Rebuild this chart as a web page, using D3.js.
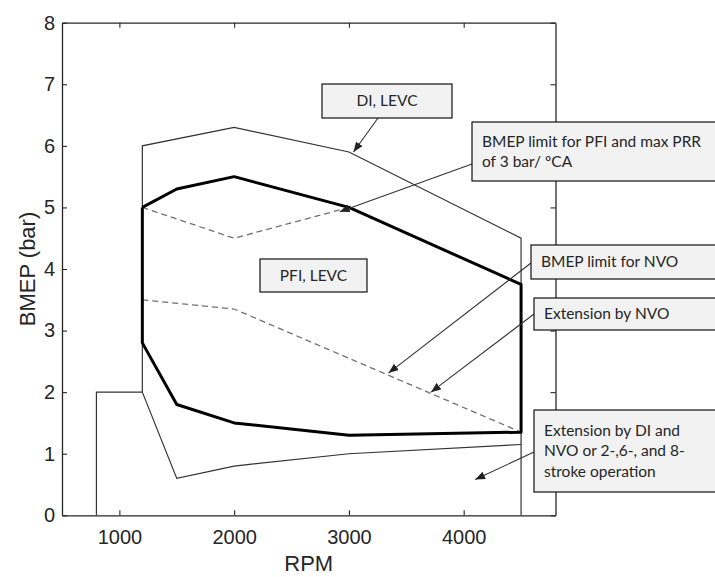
<!DOCTYPE html>
<html>
<head>
<meta charset="utf-8">
<script src="https://cdn.jsdelivr.net/npm/d3@7"></script>
<style>
  body { margin: 0; background: #fff; }
</style>
</head>
<body>
<div id="chart"></div>
<script>
// outer envelope (DI, LEVC and extensions), thin line
const outerRpm  = [800, 800, 1200, 1200, 2000, 3000, 4500, 4500];
const outerBmep = [0, 2, 2, 6, 6.3, 5.9, 4.5, 0];
// lower edge of the extension by DI / NVO
const lowerRpm  = [1200, 1500, 2000, 3000, 4500];
const lowerBmep = [2, 0.6, 0.8, 1.0, 1.15];
// PFI, LEVC region, thick line
const pfiRpm  = [1200, 1500, 2000, 3000, 4500, 4500, 3000, 2000, 1500, 1200, 1200];
const pfiBmep = [5.0, 5.3, 5.5, 5.0, 3.75, 1.35, 1.3, 1.5, 1.8, 2.8, 5.0];
// dashed limits
const prrRpm  = [1200, 2000, 3000];
const prrBmep = [5.0, 4.5, 5.0];
const nvoRpm  = [1200, 2000, 4500];
const nvoBmep = [3.5, 3.35, 1.35];
// ticks
const xTicks = [1000, 2000, 3000, 4000];
const yTicks = [0, 1, 2, 3, 4, 5, 6, 7, 8];

// callouts: box in pixels, arrow tip in data units
const notes = [
  { lines: ["DI, LEVC"], box: [322, 84, 130, 34], center: true, from: [378, 118], tip: [3040, 5.9] },
  { lines: ["BMEP limit for PFI and max PRR", "of 3 bar/ \u00baCA"], box: [472, 122, 260, 59], from: [472, 164], tip: [2920, 4.93] },
  { lines: ["PFI, LEVC"], box: [260, 259, 107, 33], center: true },
  { lines: ["BMEP limit for NVO"], box: [531, 245, 200, 34], from: [531, 263], tip: [3345, 2.31] },
  { lines: ["Extension by NVO"], box: [534, 298, 200, 32], from: [534, 314], tip: [3715, 2.0] },
  { lines: ["Extension by DI and", "NVO or 2-,6-, and 8-", "stroke operation"], box: [534, 410, 200, 82], from: [534, 452], tip: [4100, 0.58] }
];

const width = 715, height = 577;
const margin = { top: 22.7, right: 159.5, bottom: 61.7, left: 62 };

const svg = d3.select("#chart").append("svg")
  .attr("width", width)
  .attr("height", height);

const x = d3.scaleLinear().domain([500, 4800]).range([margin.left, width - margin.right]);
const y = d3.scaleLinear().domain([0, 8]).range([height - margin.bottom, margin.top]);

const defs = svg.append("defs");
defs.append("marker")
  .attr("id", "head")
  .attr("markerUnits", "userSpaceOnUse")
  .attr("markerWidth", 10).attr("markerHeight", 8)
  .attr("refX", 10).attr("refY", 4)
  .attr("orient", "auto")
  .append("path")
  .attr("d", "M0,0 L10,4 L0,8 Z")
  .attr("fill", "#222");

const axisColor = "#262626";
const tickFont = "'Liberation Sans', Arial, sans-serif";

// axes, MATLAB style with inward ticks on all sides
const gx = svg.append("g")
  .attr("transform", `translate(0,${y(0)})`)
  .call(d3.axisBottom(x).tickValues(xTicks).tickFormat(d3.format("d"))
    .tickSizeInner(-5).tickSizeOuter(0).tickPadding(14.5));
const gy = svg.append("g")
  .attr("transform", `translate(${x(500)},0)`)
  .call(d3.axisLeft(y).tickValues(yTicks).tickFormat(d3.format("d"))
    .tickSizeInner(-5).tickSizeOuter(0).tickPadding(7));
const gt = svg.append("g")
  .attr("transform", `translate(0,${y(8)})`)
  .call(d3.axisTop(x).tickValues(xTicks).tickSizeInner(-5).tickSizeOuter(0).tickFormat(""));
const gr = svg.append("g")
  .attr("transform", `translate(${x(4800)},0)`)
  .call(d3.axisRight(y).tickValues(yTicks).tickSizeInner(-5).tickSizeOuter(0).tickFormat(""));

[gx, gy, gt, gr].forEach(g => {
  g.select(".domain").attr("stroke", axisColor).attr("stroke-width", 1.3);
  g.selectAll(".tick line").attr("stroke", axisColor).attr("stroke-width", 1.1);
  g.selectAll(".tick text")
    .attr("fill", axisColor)
    .style("font-family", tickFont)
    .style("font-size", "20px");
});

// axis titles
svg.append("text")
  .attr("x", (x(500) + x(4800)) / 2)
  .attr("y", 571)
  .attr("text-anchor", "middle")
  .attr("fill", axisColor)
  .style("font-family", tickFont)
  .style("font-size", "22px")
  .text("RPM");

svg.append("text")
  .attr("transform", `translate(34.5,${(y(0) + y(8)) / 2}) rotate(-90)`)
  .attr("text-anchor", "middle")
  .attr("fill", axisColor)
  .style("font-family", tickFont)
  .style("font-size", "22px")
  .text("BMEP (bar)");

// lines
const line = d3.line().x(d => x(d[0])).y(d => y(d[1]));
const pts = (xs, ys) => xs.map((v, i) => [v, ys[i]]);

svg.append("path")
  .attr("d", line(pts(outerRpm, outerBmep)))
  .attr("fill", "none").attr("stroke", "#333").attr("stroke-width", 1.2);

svg.append("path")
  .attr("d", line(pts(lowerRpm, lowerBmep)))
  .attr("fill", "none").attr("stroke", "#333").attr("stroke-width", 1.2);

svg.append("path")
  .attr("d", line(pts(prrRpm, prrBmep)))
  .attr("fill", "none").attr("stroke", "#707070").attr("stroke-width", 1.3)
  .attr("stroke-dasharray", "6,4");

svg.append("path")
  .attr("d", line(pts(nvoRpm, nvoBmep)))
  .attr("fill", "none").attr("stroke", "#707070").attr("stroke-width", 1.3)
  .attr("stroke-dasharray", "6,4");

svg.append("path")
  .attr("d", line(pts(pfiRpm, pfiBmep)))
  .attr("fill", "none").attr("stroke", "#000").attr("stroke-width", 3)
  .attr("stroke-linejoin", "round");

// callouts
const noteFont = "Lato, 'Open Sans', sans-serif";
notes.forEach(n => {
  if (n.tip) {
    svg.append("line")
      .attr("x1", n.from[0]).attr("y1", n.from[1])
      .attr("x2", x(n.tip[0])).attr("y2", y(n.tip[1]))
      .attr("stroke", "#333").attr("stroke-width", 1.1)
      .attr("marker-end", "url(#head)");
  }
  const [bx, by, bw, bh] = n.box;
  svg.append("rect")
    .attr("x", bx).attr("y", by).attr("width", bw).attr("height", bh)
    .attr("fill", "#f2f2f2").attr("stroke", "#111").attr("stroke-width", 1.2);
  const lh = 20.5;
  const top = by + bh / 2 - (n.lines.length - 1) * lh / 2;
  n.lines.forEach((t, i) => {
    svg.append("text")
      .attr("x", n.center ? bx + bw / 2 : bx + 10)
      .attr("y", top + i * lh)
      .attr("dy", "0.35em")
      .attr("text-anchor", n.center ? "middle" : "start")
      .attr("fill", "#262626")
      .style("font-family", noteFont)
      .style("font-size", "15.5px")
      .text(t);
  });
});
</script>
</body>
</html>
